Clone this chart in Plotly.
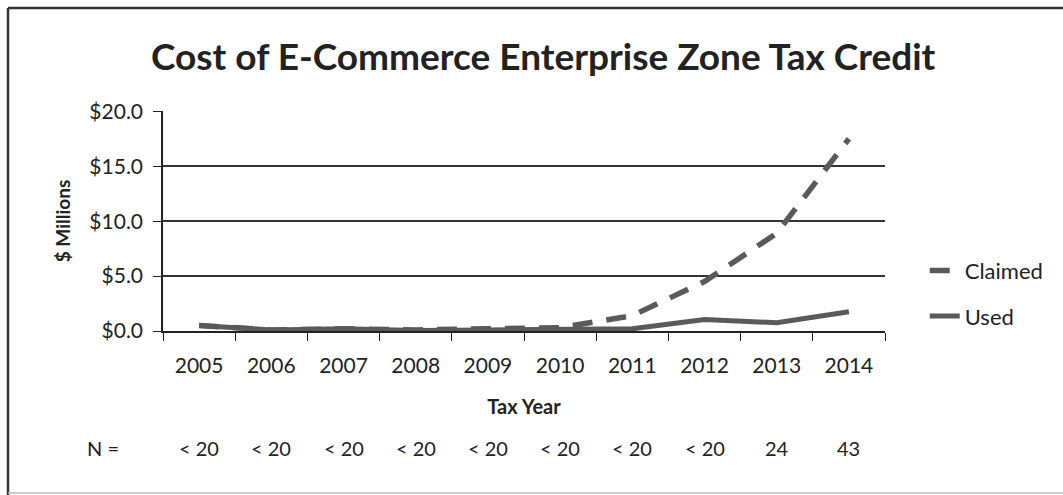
import plotly.graph_objects as go

years = ["2005", "2006", "2007", "2008", "2009", "2010", "2011", "2012", "2013", "2014"]
claimed = [0.5, 0.1, 0.2, 0.1, 0.2, 0.3, 1.4, 4.5, 8.9, 17.5]
used = [0.5, 0.1, 0.2, 0.05, 0.1, 0.15, 0.2, 1.05, 0.75, 1.75]
n_labels = ["< 20", "< 20", "< 20", "< 20", "< 20", "< 20", "< 20", "< 20", "24", "43"]
y_ticks = [0, 5, 10, 15, 20]
y_tick_text = ["$0.0", "$5.0", "$10.0", "$15.0", "$20.0"]

FONT = "Lato"
TEXT = "#222"
LINE_COLOR = "#5a5a5a"

fig = go.Figure()
fig.add_trace(go.Scatter(x=years, y=claimed, name="Claimed", mode="lines",
                         line=dict(color=LINE_COLOR, width=5.5, dash="20px,14px"),
                         legendgroup="a"))
fig.add_trace(go.Scatter(x=years, y=used, name="Used", mode="lines",
                         line=dict(color=LINE_COLOR, width=5),
                         legendgroup="b"))

N_Y = -0.532
for i, lab in enumerate(n_labels):
    fig.add_annotation(x=i, xref="x", y=N_Y, yref="paper", text=lab, showarrow=False,
                       font=dict(family=FONT, size=20, color=TEXT), xanchor="center", yanchor="middle")
fig.add_annotation(x=-0.083, xref="paper", y=N_Y, yref="paper", text="N =", showarrow=False,
                   font=dict(family=FONT, size=20, color=TEXT), xanchor="center", yanchor="middle")

# frame lines (paper coords derived from plot area 163..885 x, 111..331 y)
def px_x(p):
    return (p - 163) / 722

def px_y(p):
    return (331 - p) / 220

shapes = [
    dict(type="line", xref="paper", yref="paper", x0=px_x(8), x1=px_x(1063), y0=px_y(8), y1=px_y(8),
         line=dict(color="#333", width=2.5)),
    dict(type="line", xref="paper", yref="paper", x0=px_x(8), x1=px_x(8), y0=px_y(8), y1=px_y(495),
         line=dict(color="#333", width=2.5)),
    dict(type="line", xref="paper", yref="paper", x0=px_x(8), x1=px_x(1063), y0=px_y(493), y1=px_y(493),
         line=dict(color="#bbb", width=1.5)),
]

fig.update_layout(
    width=1063, height=495,
    margin=dict(l=163, r=178, t=111, b=164),
    paper_bgcolor="white", plot_bgcolor="white",
    title=dict(text="<b>Cost of E-Commerce Enterprise Zone Tax Credit</b>", x=0.511, xanchor="center",
               y=0.885, yanchor="middle", font=dict(family=FONT, size=37, color=TEXT)),
    font=dict(family=FONT, size=20, color=TEXT),
    legend=dict(x=1.055, y=0.17, xanchor="left", yanchor="middle", traceorder="grouped",
                tracegroupgap=14, font=dict(family=FONT, size=22, color=TEXT),
                bgcolor="rgba(0,0,0,0)"),
    xaxis=dict(type="category", range=[-0.5, 9.5], showgrid=False, showline=True, linecolor=TEXT,
               linewidth=1.5, ticks="outside", tickson="boundaries", ticklen=8, tickcolor=TEXT,
               tickfont=dict(family=FONT, size=21, color=TEXT), ticklabelstandoff=15,
               title=dict(text="<b>Tax Year</b>", font=dict(family=FONT, size=20, color=TEXT), standoff=24)),
    yaxis=dict(range=[0, 20.03], tickvals=y_ticks, ticktext=y_tick_text, showgrid=True, gridcolor="#333",
               gridwidth=1.5, showline=True, linecolor=TEXT, linewidth=1.5, ticks="outside", ticklen=8,
               tickcolor=TEXT, zeroline=False, ticklabelstandoff=6,
               tickfont=dict(family=FONT, size=21, color=TEXT),
               title=dict(text="<b>$ Millions</b>", font=dict(family=FONT, size=19, color=TEXT), standoff=14)),
    shapes=shapes,
)

fig.write_html("out.html")
